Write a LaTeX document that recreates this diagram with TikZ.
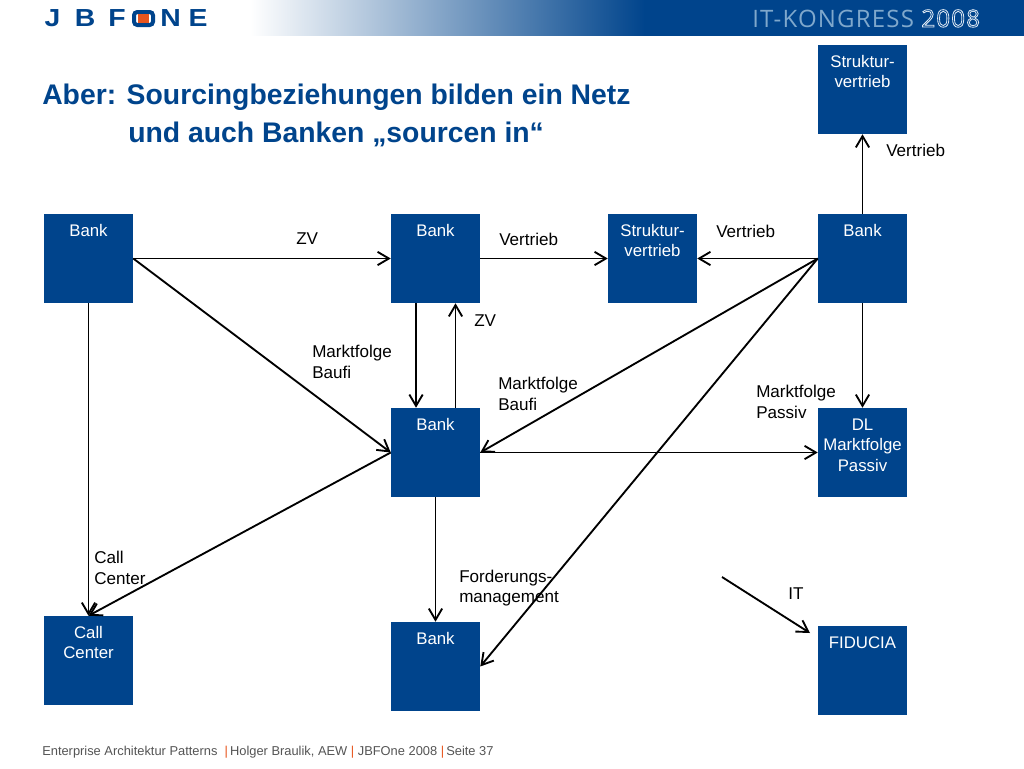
\documentclass[tikz,border=0pt]{standalone}
\usepackage{fontspec}
\setmainfont{Liberation Sans}
\newfontfamily\kongressfont[LetterSpace=5]{Open Sans}
\usetikzlibrary{arrows.meta, positioning, calc}
\definecolor{jbblue}{HTML}{00448C}
\definecolor{jborange}{HTML}{E8551E}
\definecolor{footgrey}{HTML}{555555}
\definecolor{kongress}{HTML}{7FA8CC}
\newcommand{\outlined}[1]{\special{pdf:code 1 Tr 0.6 w 0.88 0.92 0.96 RG}#1\special{pdf:code 0 Tr}}
\begin{document}
\begin{tikzpicture}[x=0.75pt, y=-0.75pt, >={Straight Barb[length=8.5pt,width=10pt]},
    bankbox/.style={rectangle, fill=jbblue, text=white, inner sep=0pt, text width=66.75pt, minimum height=66.75pt,
      align=center, text height=16.75pt, text depth=50pt, font=\fontsize{12.6}{15.4}\selectfont},
    conn/.style={->, line width=1.4pt},
    lbl/.style={anchor=west, inner sep=0pt, align=left, font=\fontsize{12.8}{15.5}\selectfont},
    logoletter/.style={anchor=center, inner sep=0pt, text=jbblue, font=\fontsize{18.5}{18.5}\selectfont\bfseries}]
  \useasboundingbox (0,0) rectangle (1024,768);
  \fill[white] (0,0) rectangle (1024,768);

  \shade[left color=white, right color=jbblue] (250,0) rectangle (645,35.4);
  \fill[jbblue] (644,0) rectangle (1024,36);
  \node[anchor=base west, inner sep=0pt, text=kongress, font=\fontsize{18}{18}\selectfont\kongressfont] (kongress) at (752,27) {IT-KONGRESS \outlined{2008}};

  \foreach \ch/\xpos in {J/52.5, B/85, F/117, N/170.5, E/198} {
    \node[logoletter] (logo\ch) at (\xpos,18.5) {\scalebox{1.15}[1]{\ch}};
  }
  \draw[jbblue, line width=3pt, rounded corners=2.5pt, fill=white] (134,12) rectangle (153,25);
  \fill[jborange] (137.5,14) rectangle (149,23);

  \node[anchor=west, inner sep=0pt, text=jbblue, font=\fontsize{21.25}{27.75}\selectfont\bfseries] (title1) at (42,97) {Aber: Sourcingbeziehungen bilden ein Netz};
  \node[anchor=west, inner sep=0pt, text=jbblue, font=\fontsize{21.25}{27.75}\selectfont\bfseries] (title2) at (128,134) {und auch Banken „sourcen in“};

  \node[bankbox] (strukturtop) at (862.5,89.5) {Struktur-\\vertrieb};
  \node[bankbox] (banka) at (88.5,258.5) {Bank};
  \node[bankbox] (bankb) at (435.5,258.5) {Bank};
  \node[bankbox] (struktur) at (652.5,258.5) {Struktur-\\vertrieb};
  \node[bankbox] (bankr) at (862.5,258.5) {Bank};
  \node[bankbox] (bankc) at (435.5,452.5) {Bank};
  \node[bankbox] (dl) at (862.5,452.5) {DL\\Marktfolge\\Passiv};
  \node[bankbox] (callcenter) at (88.5,660.5) {Call\\Center};
  \node[bankbox] (bankd) at (435.5,666.5) {Bank};
  \node[bankbox] (fiducia) at (862.5,670.5) {FIDUCIA};

  \coordinate (itstart) at (722,577);
  \coordinate (itend) at (810,633);

  \draw[conn] (banka.east) -- (bankb.west);
  \draw[conn] (bankb.east) -- (struktur.west);
  \draw[conn] (bankr.west) -- (struktur.east);
  \draw[conn] (bankr.north) -- (strukturtop.south);
  \draw[conn] (bankr.south) -- (dl.north);
  \draw[conn] (banka.east) -- (bankc.west);
  \draw[conn] (banka.south) -- (callcenter.north);
  \draw[conn] (bankc.west) -- (callcenter.north);
  \draw[conn] ([xshift=-14.6pt]bankb.south) -- ([xshift=-14.6pt]bankc.north);
  \draw[conn] ([xshift=15pt]bankc.north) -- ([xshift=15pt]bankb.south);
  \draw[conn] (bankr.west) -- (bankc.east);
  \draw[conn] (bankc.east) -- (dl.west);
  \draw[conn] (bankr.west) -- (bankd.east);
  \draw[conn] (bankc.south) -- (bankd.north);
  \draw[conn] (itstart) -- (itend);

  \node[lbl] (lzv1) at (296,239) {ZV};
  \node[lbl] (lvertrieb1) at (499,239) {Vertrieb};
  \node[lbl] (lvertrieb2) at (716,231) {Vertrieb};
  \node[lbl] (lvertrieb3) at (886,150) {Vertrieb};
  \node[lbl] (lzv2) at (474,321) {ZV};
  \node[lbl] (lbaufi1) at (312,362) {Marktfolge\\Baufi};
  \node[lbl] (lbaufi2) at (498,394) {Marktfolge\\Baufi};
  \node[lbl] (lpassiv) at (756,402) {Marktfolge\\Passiv};
  \node[lbl] (lcall) at (94,568) {Call\\Center};
  \node[lbl] (lforderung) at (459,588) {Forderungs-\\management};
  \node[lbl] (lit) at (788,594) {IT};

  \node[anchor=west, inner sep=0pt, text=footgrey, font=\fontsize{9.65}{12}\selectfont] (footer) at (42,752)
    {Enterprise Architektur Patterns \ {\color{jborange}|}\,Holger Braulik, AEW {\color{jborange}|} JBFOne 2008 {\color{jborange}|}\,Seite 37};
\end{tikzpicture}
\end{document}
